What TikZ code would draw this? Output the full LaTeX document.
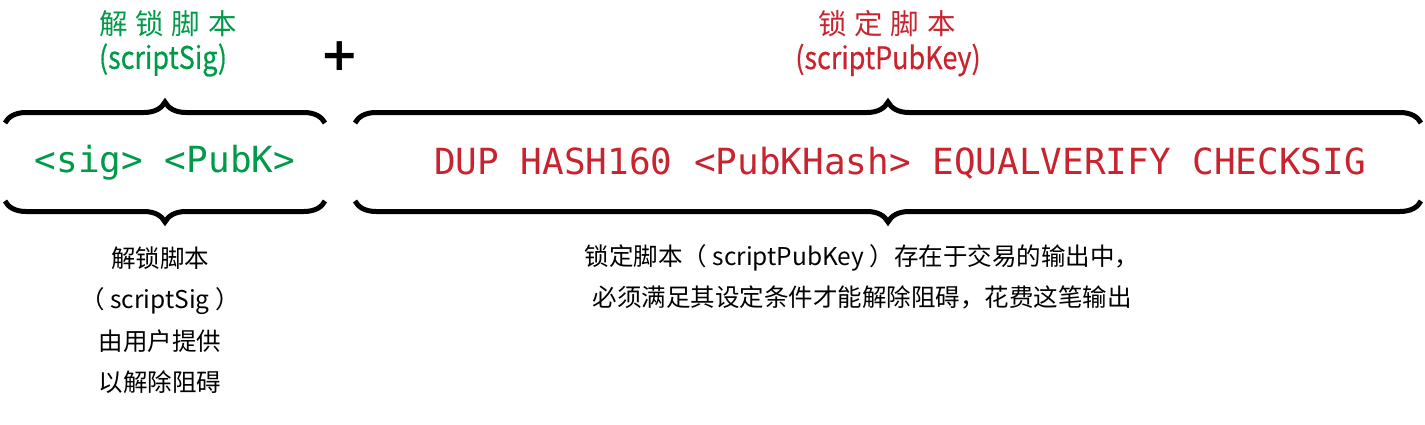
\documentclass[tikz,border=0pt]{standalone}
\usepackage{fontspec}
\setmainfont{Noto Sans CJK SC}
\setmonofont{DejaVu Sans Mono}
\newfontfamily\signo{DejaVu Sans}
\usepackage{tikz}
\usetikzlibrary{decorations.pathreplacing}
\definecolor{sigverde}{HTML}{009A49}
\definecolor{pubrojo}{HTML}{C8242F}

\begin{document}
\begin{tikzpicture}[
    x=1pt, y=-1pt,
    % Estilos de los textos
    titulo/.style={font=\fontsize{28.5}{30}\selectfont, inner sep=0pt},
    subtitulo/.style={font=\fontsize{31}{34}\selectfont\addfontfeatures{FakeBold=0.6}, inner sep=0pt},
    guion/.style={font=\fontsize{36}{40}\selectfont\ttfamily, inner sep=0pt},
    nota/.style={font=\fontsize{24.5}{41.5}\selectfont, align=center, inner sep=0pt},
    % Estilo de las llaves
    llave/.style={
        decorate, decoration={brace, amplitude=21pt}, line width=5pt
    }
]
    \useasboundingbox (0,0) rectangle (1425,424);

    % 1. Títulos
    \node[titulo, text=sigverde]    (tsig)   at (168,24) {解\hspace{8pt}锁\hspace{8pt}脚\hspace{8pt}本};
    \node[subtitulo, text=sigverde] (tsigen) at (163,60) {\scalebox{0.87}[1]{(scriptSig)}};
    \node[font=\signo\fontsize{46}{46}\selectfont\bfseries, inner sep=0pt] (mas) at (340,56) {+};
    \node[titulo, text=pubrojo]     (tpub)   at (887,24) {锁\hspace{8pt}定\hspace{8pt}脚\hspace{8pt}本};
    \node[subtitulo, text=pubrojo]  (tpuben) at (888,60) {\scalebox{0.87}[1]{(scriptPubKey)}};

    % 2. Scripts
    \node[guion, text=sigverde] (sig) at (165,163) {<sig> <PubK>};
    \node[guion, text=pubrojo]  (pub) at (900,163) {DUP HASH160 <PubKHash> EQUALVERIFY CHECKSIG};

    % 3. Llaves
    \coordinate (s1) at (5,123);    \coordinate (s2) at (325,123);
    \coordinate (s3) at (5,201);    \coordinate (s4) at (325,201);
    \coordinate (p1) at (355,123);  \coordinate (p2) at (1421,123);
    \coordinate (p3) at (355,201);  \coordinate (p4) at (1421,201);

    \draw[llave] (s1) -- (s2);
    \draw[llave] (s4) -- (s3);
    \draw[llave] (p1) -- (p2);
    \draw[llave] (p4) -- (p3);

    % 4. Notas
    \node[nota] (nsig) at (160,320) {解锁脚本\\（ scriptSig ）\\由用户提供\\以解除阻碍};
    \node[nota] (npub) at (862,277) {锁定脚本（ scriptPubKey ）存在于交易的输出中，\\必须满足其设定条件才能解除阻碍，花费这笔输出};

\end{tikzpicture}
\end{document}
